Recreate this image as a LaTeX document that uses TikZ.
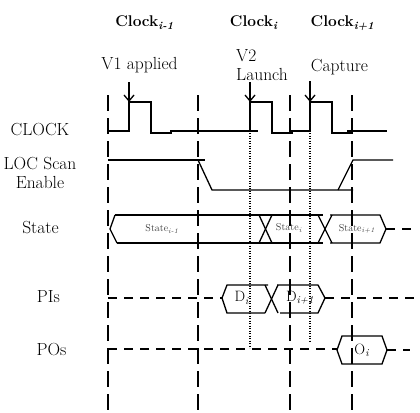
\documentclass[tikz,border=0pt]{standalone}
\usetikzlibrary{arrows.meta}
\begin{document}
\begin{tikzpicture}[x=1pt,y=-1pt,
  wave/.style={line width=1.3pt,line join=miter},
  vdash/.style={line width=1.3pt,dash pattern=on 16pt off 7pt},
  hdash/.style={line width=1.3pt,dash pattern=on 9pt off 7pt},
  vdot/.style={line width=1.1pt,dash pattern=on 1.2pt off 1.3pt},
  lbl/.style={inner sep=0pt,font=\fontsize{17.5}{20}\selectfont},
  ttl/.style={inner sep=0pt,font=\fontsize{15.5}{18}\selectfont\bfseries},
  slbl/.style={inner sep=0pt,text=black!75,font=\fontsize{10}{12}\selectfont},
  dlbl/.style={inner sep=0pt,font=\fontsize{15}{17}\selectfont},
  arr/.style={line width=1.3pt,-{Straight Barb[length=6pt,width=10pt]}}]
\useasboundingbox (0,0) rectangle (420,412);

% titles
\node[ttl,anchor=base] (t1) at (144.5,27) {Clock\textsubscript{\textit{i-1}}};
\node[ttl,anchor=base] (t2) at (254,27) {Clock\textsubscript{\textit{i}}};
\node[ttl,anchor=base] (t3) at (342.5,27) {Clock\textsubscript{\textit{i+1}}};

% event labels
\node[lbl,anchor=base] (v1) at (139.5,70) {V1 applied};
\node[lbl,anchor=base west] (v2) at (236,62) {V2};
\node[lbl,anchor=base west] (la) at (236,80.5) {Launch};
\node[lbl,anchor=base] (ca) at (339.5,71) {Capture};

% row labels
\node[lbl,anchor=base] (rclk) at (40,135) {CLOCK};
\node[lbl,anchor=base] (rloc) at (40,169) {LOC Scan};
\node[lbl,anchor=base] (ren) at (40,188) {Enable};
\node[lbl,anchor=base] (rst) at (40.5,233) {State};
\node[lbl,anchor=base] (rpi) at (48.5,302) {PIs};
\node[lbl,anchor=base] (rpo) at (51.5,355) {POs};

% vertical dashed clock-boundary lines
\foreach \x/\n in {108/a,198/b,290/c,352/d}{
  \coordinate (top\n) at (\x,95);
  \coordinate (bot\n) at (\x,412);
  \draw[vdash] (top\n) -- (bot\n);
}

% dotted lines
\coordinate (d1t) at (250,133); \coordinate (d1b) at (250,348);
\coordinate (d2t) at (310,133); \coordinate (d2b) at (310,342);
\draw[vdot] (d1t) -- (d1b);
\draw[vdot] (d2t) -- (d2b);

% CLOCK waveform
\draw[wave] (108,131) -- (129,131) -- (129,102) -- (151,102) -- (151,133) -- (172,133);
\draw[wave] (170,131) -- (258,131);
\draw[wave] (250,131) -- (250,102) -- (272,102) -- (272,133) -- (293,133);
\draw[wave] (291,131) -- (310,131) -- (310,102) -- (332,102) -- (332,133) -- (353,133);
\draw[wave] (347,131) -- (387,131);

% arrows
\coordinate (a1s) at (129,82); \coordinate (a1e) at (129,102);
\coordinate (a2s) at (250,82); \coordinate (a2e) at (250,102);
\coordinate (a3s) at (310,81); \coordinate (a3e) at (310,102);
\draw[arr] (a1s) -- (a1e);
\draw[arr] (a2s) -- (a2e);
\draw[arr] (a3s) -- (a3e);

% LOC scan enable
\draw[wave] (108,160) -- (205,160);
\draw[wave] (198,160) -- (212,190) -- (353,190);
\draw[wave] (338,190) -- (353,160) -- (393,160);

% State bus
\draw[wave] (115,215) -- (110,229) -- (117,243);
\draw[wave] (115,215) -- (323,215);
\draw[wave] (117,243) -- (323,243);
\draw[wave] (259,215) -- (272,243);
\draw[wave] (259,243) -- (272,215);
\draw[wave] (318,215) -- (332,243);
\draw[wave] (318,243) -- (332,215);
\draw[wave] (330,215) -- (380,215) -- (386,229) -- (380,243) -- (330,243);
\coordinate (sr) at (386,229); \coordinate (se) at (412,229);
\draw[hdash] (sr) -- (se);
\node[slbl] (s1) at (162,229) {State\textsubscript{\textit{i-1}}};
\node[slbl] (s2) at (289,228) {State\textsubscript{\textit{i}}};
\node[slbl] (s3) at (357,229) {State\textsubscript{\textit{i+1}}};

% PIs bus
\coordinate (pil) at (108,298); \coordinate (pia) at (222,298);
\draw[hdash] (pil) -- (pia);
\draw[wave] (268,285) -- (227,285) -- (222,298) -- (227,313) -- (265,313);
\draw[wave] (265,285) -- (278,313);
\draw[wave] (265,313) -- (278,285);
\draw[wave] (277,285) -- (318,285) -- (325,298) -- (318,313) -- (280,313);
\coordinate (pib) at (325,298); \coordinate (pie) at (420,298);
\draw[hdash] (pib) -- (pie);
\node[dlbl] (di) at (242,298) {D\textsubscript{\textit{i}}};
\node[dlbl] (di1) at (300,298) {D\textsubscript{\textit{i+1}}};

% POs bus
\coordinate (pol) at (108,349); \coordinate (poa) at (337,349);
\draw[hdash] (pol) -- (poa);
\draw[wave] (342,336) -- (382,336) -- (387,350) -- (382,364) -- (342,364) -- (337,350) -- cycle;
\coordinate (pob) at (387,350); \coordinate (poe) at (410,350);
\draw[hdash] (pob) -- (poe);
\node[dlbl] (oi) at (362,350) {O\textsubscript{\textit{i}}};
\end{tikzpicture}
\end{document}
